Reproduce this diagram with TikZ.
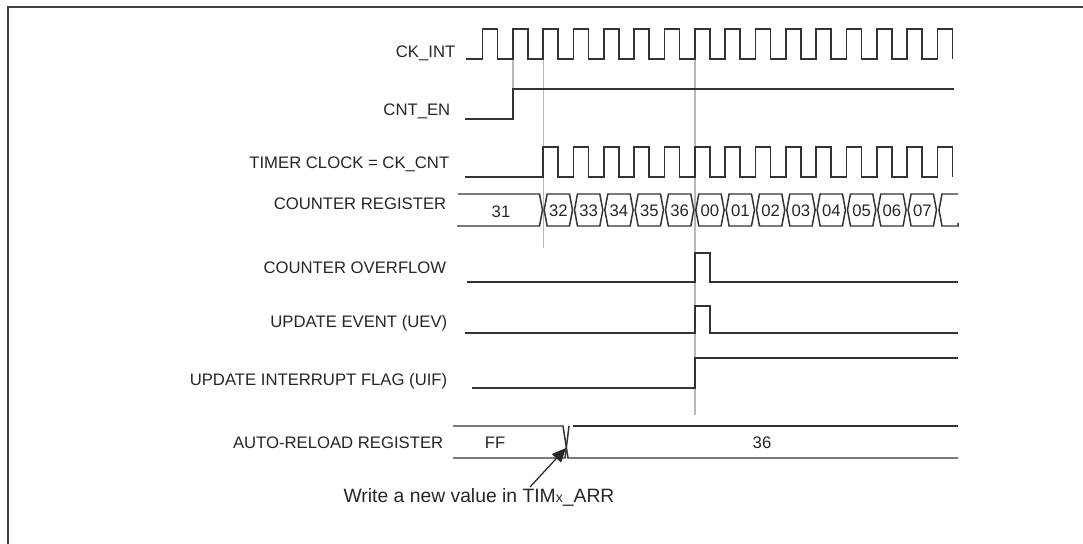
\documentclass[tikz,border=0pt]{standalone}
\usepackage{fontspec}
\setmainfont{Liberation Sans}
\usetikzlibrary{arrows.meta}

\begin{document}
\begin{tikzpicture}[
   x=0.02cm,
   y=-0.02cm,
   font=\fontsize{9.5}{11}\selectfont,
   line width=0.85pt,
   signal/.style={
      draw=black!80,
      line join=miter
   },
   guide/.style={
      draw=black!28,
      line width=0.8pt
   },
   siglabel/.style={
      anchor=east,
      inner sep=0pt,
      text=black!85
   },
   regval/.style={
      inner sep=0pt,
      text=black!85
   }
]

   \useasboundingbox (0,0) rectangle (1083,544);

   % Frame
   \draw[line width=1.1pt, black!75] (1083,7) -- (8,7) -- (8,544);

   % Guide lines
   \draw[guide] (513,60) -- (513,120);
   \draw[guide] (543.5,60) -- (543.5,248);
   \draw[guide] (695,60) -- (695,415);

   % Signal names
   \node[siglabel] (lblckint) at (456,53) {CK\_INT};
   \node[siglabel] (lblcnten) at (451,111) {CNT\_EN};
   \node[siglabel] (lblckcnt) at (450,164) {TIMER CLOCK = CK\_CNT};
   \node[siglabel] (lblcnt) at (447,204) {COUNTER REGISTER};
   \node[siglabel] (lblovf) at (447,268) {COUNTER OVERFLOW};
   \node[siglabel] (lbluev) at (448,323) {UPDATE EVENT (UEV)};
   \node[siglabel] (lbluif) at (448,381) {UPDATE INTERRUPT FLAG (UIF)};
   \node[siglabel] (lblarr) at (444,443) {AUTO-RELOAD REGISTER};

   % CK_INT
   \draw[signal] (466,59)
      foreach \k in {0,...,15}
      {
         -- ({482.5+30.33*\k},59) -- ++(0,-30) -- ++(15,0) -- ++(0,30)
      };

   % CNT_EN
   \draw[signal] (465,119) -- (513,119) -- (513,89) -- (954,89);

   % Timer clock
   \draw[signal] (465,177)
      foreach \k in {2,...,15}
      {
         -- ({482.5+30.33*\k},177) -- ++(0,-30) -- ++(15,0) -- ++(0,30)
      };

   % Counter register
   \draw[signal] (458,194) -- (539.5,194) -- (542.5,210) -- (539.5,226) -- (457,226);
   \node[regval] (reg31) at (501,212) {31};

   \foreach \v [count=\k from 2] in {32,33,34,35,36,00,01,02,03,04,05,06,07}
   {
      \pgfmathsetmacro\xa{482.5+30.33*\k}
      \pgfmathsetmacro\xb{\xa+30.33}
      \draw[signal]
         ({\xa+1},210) -- ({\xa+4},194) -- ({\xb-4},194)
         -- ({\xb-1},210) -- ({\xb-4},226) -- ({\xa+4},226) -- cycle;
      \node[regval] (reg\k) at ({(\xa+\xb)/2},211) {\v};
   }

   \draw[signal] (958,194) -- (942,194) -- (939,210) -- (942,226) -- (958,226) -- (958,223);

   % Counter overflow
   \draw[signal] (467,282) -- (695,282) -- (695,253) -- (710,253) -- (710,282) -- (958,282);

   % Update event
   \draw[signal] (465,333) -- (695,333) -- (695,306) -- (710,306) -- (710,333) -- (958,333);

   % Update interrupt flag
   \draw[signal] (472,388) -- (695,388) -- (695,358) -- (958,358);

   % Auto-reload register
   \draw[signal] (453,426) -- (563,426) -- (568,458) -- (958,458);
   \draw[signal] (453,458) -- (565,458) -- (569,426);
   \draw[signal] (573,426) -- (958,426);

   \node[regval] (arrff) at (495,443) {FF};
   \node[regval] (arr36) at (762,443) {36};

   % Write note
   \node[inner sep=0pt, text=black!85, font=\fontsize{11}{13}\selectfont] (note) at (479,497)
   {
      Write a new value in TIM{\fontsize{8}{9}\selectfont x}\_ARR
   };

   \coordinate (arrfoot) at (530,487);
   \coordinate (arrtip) at (566,448);

   \draw[-{Triangle[length=8pt,width=7pt]}, line width=0.7pt, black!85]
      (arrfoot) -- (arrtip);

\end{tikzpicture}
\end{document}
